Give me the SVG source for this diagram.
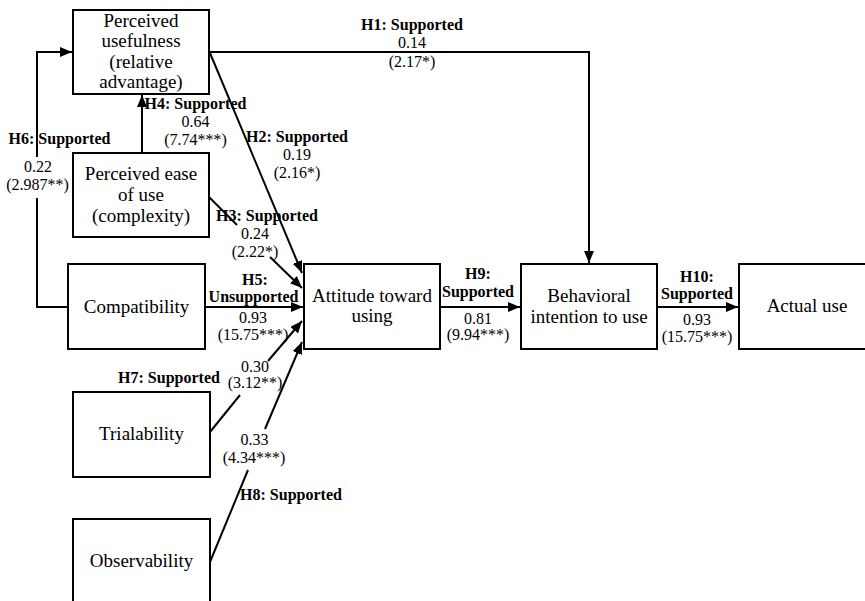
<svg xmlns="http://www.w3.org/2000/svg" width="865" height="601" viewBox="0 0 865 601">
<defs>
<marker id="arr" markerUnits="userSpaceOnUse" markerWidth="13" markerHeight="11" refX="12" refY="5" orient="auto">
<path d="M0,0 L12,5 L0,10 z" fill="#000"/>
</marker>
</defs>
<rect width="865" height="601" fill="#fff"/>
<g id="connectors" fill="none" stroke="#000" stroke-width="2">
<path d="M209,52 H589 V263" marker-end="url(#arr)"/>
<path d="M68,307 H37 V198"/>
<path d="M37,157 V52 H72" marker-end="url(#arr)"/>
<path d="M142,153 V95" marker-end="url(#arr)"/>
<path d="M210,53 L302,273" marker-end="url(#arr)"/>
<path d="M209,197 L237,225"/>
<path d="M270,257 L302,288" marker-end="url(#arr)"/>
<path d="M205,307 H303" marker-end="url(#arr)"/>
<path d="M210,432 L240,395"/>
<path d="M268,361 L302,321" marker-end="url(#arr)"/>
<path d="M210,562 L248,470"/>
<path d="M265,429 L302,342" marker-end="url(#arr)"/>
<path d="M440,307 H520" marker-end="url(#arr)"/>
<path d="M657,307 H738" marker-end="url(#arr)"/>
</g>
<g id="labels">
<text x="412" y="30" font-family="Liberation Serif, serif" font-size="16" font-weight="bold" text-anchor="middle">H1: Supported</text>
<text x="195.5" y="109" font-family="Liberation Serif, serif" font-size="16" font-weight="bold" text-anchor="middle">H4: Supported</text>
<text x="59.5" y="144" font-family="Liberation Serif, serif" font-size="16" font-weight="bold" text-anchor="middle">H6: Supported</text>
<text x="297" y="142" font-family="Liberation Serif, serif" font-size="16" font-weight="bold" text-anchor="middle">H2: Supported</text>
<text x="267" y="221" font-family="Liberation Serif, serif" font-size="16" font-weight="bold" text-anchor="middle">H3: Supported</text>
<text x="255" y="285" font-family="Liberation Serif, serif" font-size="16" font-weight="bold" text-anchor="middle">H5:</text>
<text x="253.5" y="302" font-family="Liberation Serif, serif" font-size="16" font-weight="bold" text-anchor="middle">Unsupported</text>
<text x="169" y="383" font-family="Liberation Serif, serif" font-size="16" font-weight="bold" text-anchor="middle">H7: Supported</text>
<text x="291" y="500" font-family="Liberation Serif, serif" font-size="16" font-weight="bold" text-anchor="middle">H8: Supported</text>
<text x="478" y="279" font-family="Liberation Serif, serif" font-size="16" font-weight="bold" text-anchor="middle">H9:</text>
<text x="478" y="297" font-family="Liberation Serif, serif" font-size="16" font-weight="bold" text-anchor="middle">Supported</text>
<text x="697" y="282" font-family="Liberation Serif, serif" font-size="16" font-weight="bold" text-anchor="middle">H10:</text>
<text x="697" y="299" font-family="Liberation Serif, serif" font-size="16" font-weight="bold" text-anchor="middle">Supported</text>
<text x="412" y="48" font-family="Liberation Serif, serif" font-size="16" text-anchor="middle">0.14</text>
<text x="412" y="67" font-family="Liberation Serif, serif" font-size="16" text-anchor="middle">(2.17*)</text>
<text x="195.5" y="127" font-family="Liberation Serif, serif" font-size="16" text-anchor="middle">0.64</text>
<text x="195.5" y="145" font-family="Liberation Serif, serif" font-size="16" text-anchor="middle">(7.74***)</text>
<text x="38" y="172" font-family="Liberation Serif, serif" font-size="16" text-anchor="middle">0.22</text>
<text x="37.5" y="190" font-family="Liberation Serif, serif" font-size="16" text-anchor="middle">(2.987**)</text>
<text x="297" y="160" font-family="Liberation Serif, serif" font-size="16" text-anchor="middle">0.19</text>
<text x="297" y="178" font-family="Liberation Serif, serif" font-size="16" text-anchor="middle">(2.16*)</text>
<text x="255" y="239" font-family="Liberation Serif, serif" font-size="16" text-anchor="middle">0.24</text>
<text x="255" y="257" font-family="Liberation Serif, serif" font-size="16" text-anchor="middle">(2.22*)</text>
<text x="253" y="323" font-family="Liberation Serif, serif" font-size="16" text-anchor="middle">0.93</text>
<text x="253" y="340" font-family="Liberation Serif, serif" font-size="16" text-anchor="middle">(15.75***)</text>
<text x="255" y="372" font-family="Liberation Serif, serif" font-size="16" text-anchor="middle">0.30</text>
<text x="255" y="388" font-family="Liberation Serif, serif" font-size="16" text-anchor="middle">(3.12**)</text>
<text x="254.5" y="445" font-family="Liberation Serif, serif" font-size="16" text-anchor="middle">0.33</text>
<text x="254" y="463" font-family="Liberation Serif, serif" font-size="16" text-anchor="middle">(4.34***)</text>
<text x="478" y="324" font-family="Liberation Serif, serif" font-size="16" text-anchor="middle">0.81</text>
<text x="478" y="340" font-family="Liberation Serif, serif" font-size="16" text-anchor="middle">(9.94***)</text>
<text x="697" y="325" font-family="Liberation Serif, serif" font-size="16" text-anchor="middle">0.93</text>
<text x="697" y="342" font-family="Liberation Serif, serif" font-size="16" text-anchor="middle">(15.75***)</text>
</g>
<g id="pu">
<rect x="73" y="10" width="136" height="84" fill="#fff" stroke="#000" stroke-width="2"/>
<text x="141" y="27" font-family="Liberation Serif, serif" font-size="19" text-anchor="middle">Perceived</text>
<text x="141" y="47" font-family="Liberation Serif, serif" font-size="19" text-anchor="middle">usefulness</text>
<text x="141" y="68" font-family="Liberation Serif, serif" font-size="19" text-anchor="middle">(relative</text>
<text x="141" y="88" font-family="Liberation Serif, serif" font-size="19" text-anchor="middle">advantage)</text>
</g>
<g id="pe">
<rect x="73" y="153" width="136" height="84" fill="#fff" stroke="#000" stroke-width="2"/>
<text x="141" y="180" font-family="Liberation Serif, serif" font-size="19" text-anchor="middle">Perceived ease</text>
<text x="141" y="201" font-family="Liberation Serif, serif" font-size="19" text-anchor="middle">of use</text>
<text x="141" y="222" font-family="Liberation Serif, serif" font-size="19" text-anchor="middle">(complexity)</text>
</g>
<g id="compat">
<rect x="68" y="264" width="137" height="85" fill="#fff" stroke="#000" stroke-width="2"/>
<text x="136.5" y="313" font-family="Liberation Serif, serif" font-size="19" text-anchor="middle">Compatibility</text>
</g>
<g id="trial">
<rect x="73" y="392" width="137" height="85" fill="#fff" stroke="#000" stroke-width="2"/>
<text x="141.5" y="440" font-family="Liberation Serif, serif" font-size="19" text-anchor="middle">Trialability</text>
</g>
<g id="observ">
<rect x="73" y="519" width="137" height="90" fill="#fff" stroke="#000" stroke-width="2"/>
<text x="141.5" y="567" font-family="Liberation Serif, serif" font-size="19" text-anchor="middle">Observability</text>
</g>
<g id="attitude">
<rect x="304" y="264" width="136" height="85" fill="#fff" stroke="#000" stroke-width="2"/>
<text x="372" y="302" font-family="Liberation Serif, serif" font-size="19" text-anchor="middle">Attitude toward</text>
<text x="372" y="322" font-family="Liberation Serif, serif" font-size="19" text-anchor="middle">using</text>
</g>
<g id="intention">
<rect x="521" y="264" width="136" height="85" fill="#fff" stroke="#000" stroke-width="2"/>
<text x="589" y="302" font-family="Liberation Serif, serif" font-size="19" text-anchor="middle">Behavioral</text>
<text x="589" y="323" font-family="Liberation Serif, serif" font-size="19" text-anchor="middle">intention to use</text>
</g>
<g id="actual">
<rect x="739" y="264" width="136" height="85" fill="#fff" stroke="#000" stroke-width="2"/>
<text x="807" y="312" font-family="Liberation Serif, serif" font-size="19" text-anchor="middle">Actual use</text>
</g>
</svg>
